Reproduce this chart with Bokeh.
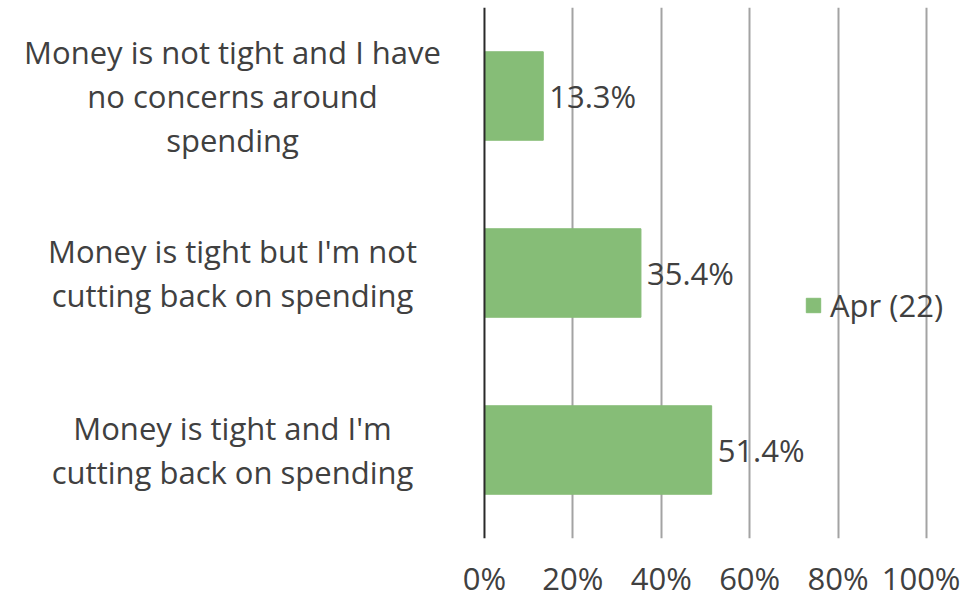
from bokeh.plotting import figure
from bokeh.models import Range1d, FixedTicker, Span, Legend, LegendItem, ColumnDataSource, CustomJSTickFormatter
from bokeh.core.properties import value
from bokeh.embed import file_html
from bokeh.resources import INLINE

categories = ["Money is not tight and I have\nno concerns around\nspending",
              "Money is tight but I'm not\ncutting back on spending",
              "Money is tight and I'm\ncutting back on spending"]
values = [13.3, 35.4, 51.4]
series_name = "Apr (22)"
x_ticks = [0, 20, 40, 60, 80, 100]

FONT = "Open Sans"
FS = "31px"
TEXT = "#404040"
GREEN = "#86bd77"

n = len(categories)
ypos = [n - 1 - i for i in range(n)]

# frame spans the whole canvas width; x range chosen so that 0% sits at the category/plot split
p = figure(width=960, height=601, output_backend="svg", toolbar_location=None,
           x_range=Range1d(-109.5, 107.7), y_range=Range1d(-0.5, n - 0.5),
           min_border_left=0, min_border_right=0, min_border_top=7, min_border_bottom=40)
p.outline_line_color = None
p.background_fill_color = "white"

# grid
p.ygrid.grid_line_color = None
p.xgrid.ticker = FixedTicker(ticks=x_ticks[1:])
p.xgrid.grid_line_color = "#a3a3a3"
p.xgrid.grid_line_width = 2

src = ColumnDataSource(dict(y=ypos, v=values, lab=[f"{v:.1f}%" for v in values]))
r = p.hbar(y="y", right="v", left=0, height=0.5, color=GREEN, source=src)
p.text(x="v", y="y", text="lab", source=src, x_offset=6, text_align="left", text_baseline="middle",
       text_font_size=FS, text_color=TEXT, text_font=value(FONT))

# category axis line at 0
p.add_layout(Span(location=0, dimension="height", line_color="#2a2a2a", line_width=2))

# category labels (multi-line, centred)
LINE_H = 44
ly, loff, ltxt = [], [], []
for c, y in zip(categories, ypos):
    lines = c.split("\n")
    k = len(lines)
    for j, ln in enumerate(lines):
        ly.append(y)
        loff.append(((j - (k - 1) / 2)) * LINE_H)
        ltxt.append(ln)
lsrc = ColumnDataSource(dict(y=ly, off=loff, t=ltxt, x=[-57.0] * len(ly)))
p.text(x="x", y="y", text="t", y_offset="off", source=lsrc, text_align="center", text_baseline="middle",
       text_font_size=FS, text_color=TEXT, text_font=value(FONT))

# x axis
p.xaxis.ticker = FixedTicker(ticks=x_ticks)
p.xaxis.formatter = CustomJSTickFormatter(code="return tick + '%';")
p.xaxis.axis_line_color = None
p.xaxis.major_tick_line_color = None
p.xaxis.minor_tick_line_color = None
p.xaxis.major_tick_out = 0
p.xaxis.major_label_standoff = 18
p.xaxis.major_label_text_font = FONT
p.xaxis.major_label_text_font_size = FS
p.xaxis.major_label_text_color = TEXT
p.yaxis.visible = False

leg = Legend(items=[LegendItem(label=series_name, renderers=[r])], location=(804, 212),
             background_fill_alpha=0, border_line_color=None, padding=0, margin=0,
             glyph_width=18, glyph_height=18, label_standoff=8,
             label_text_font=FONT, label_text_font_size=FS, label_text_color=TEXT)
p.add_layout(leg, "center")

open("out.html", "w").write(file_html(p, INLINE))
